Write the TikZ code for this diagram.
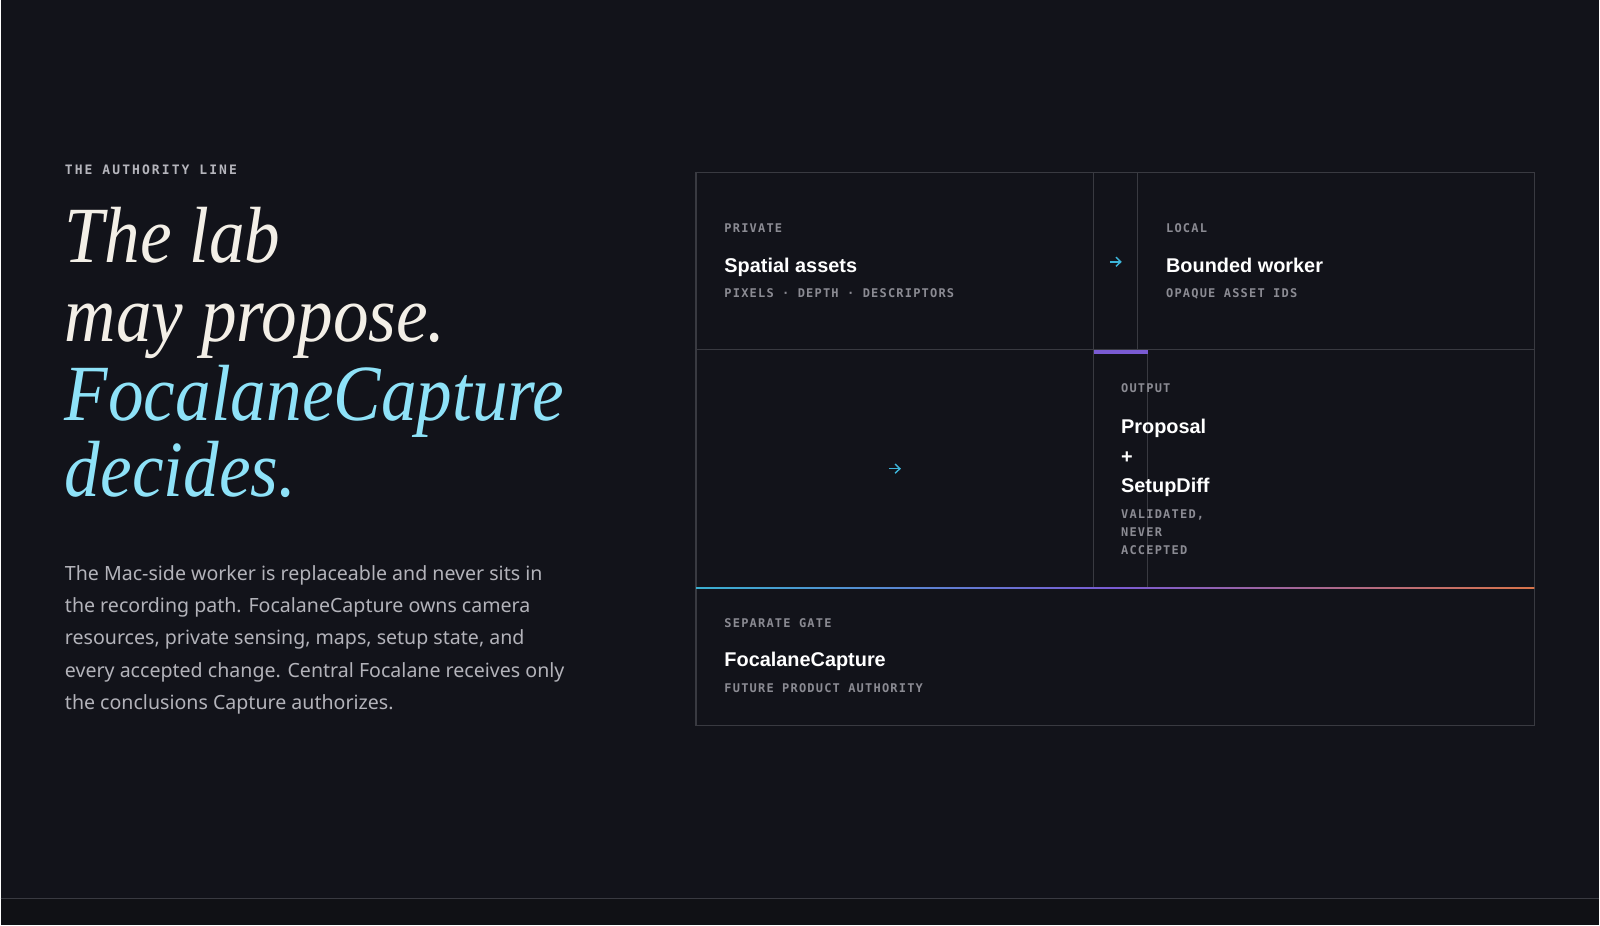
\documentclass[tikz,border=0pt]{standalone}
\usepackage{graphicx}
\usepackage{fontspec}
\usetikzlibrary{arrows.meta}
\setmainfont{Noto Sans}
\newfontfamily\titlesans{Liberation Sans}
\newfontfamily\serifit{Liberation Serif}
\newfontfamily\monolabel{DejaVu Sans Mono}[LetterSpace=10]
\newfontfamily\monokick{DejaVu Sans Mono}[LetterSpace=16]
\definecolor{bgdark}{HTML}{12131A}
\definecolor{bgfoot}{HTML}{101115}
\definecolor{gridgrey}{HTML}{393A41}
\definecolor{cream}{HTML}{F3EFE7}
\definecolor{skycyan}{HTML}{8EE2F8}
\definecolor{bodygrey}{HTML}{B3B3BA}
\definecolor{kickgrey}{HTML}{8B8B93}
\definecolor{toplabel}{HTML}{B5B5BC}
\definecolor{arrowcyan}{HTML}{3DB5DA}
\definecolor{gatecyan}{HTML}{3AAFD0}
\definecolor{gatepurple}{HTML}{7A5BD3}
\definecolor{gateorange}{HTML}{D9744A}
\tikzstyle{kicker}=[anchor=base west,inner sep=0pt,text=kickgrey,align=left,font=\monolabel\bfseries\fontsize{6}{9}\selectfont]
\tikzstyle{celltitle}=[anchor=base west,inner sep=0pt,text=white,align=left,font=\titlesans\bfseries\fontsize{9.95}{14.75}\selectfont]
\tikzstyle{headfont}=[anchor=base west,inner sep=0pt,font=\serifit\itshape\fontsize{35.6}{40}\selectfont]
\tikzstyle{gridline}=[draw=gridgrey,line width=0.6pt]
\tikzstyle{flowarrow}=[-{Straight Barb[length=2.4pt,width=4.6pt]},draw=arrowcyan,line width=0.7pt]
\newcommand{\tallhead}[1]{\scalebox{1}[1.12]{#1}}

\begin{document}
\begin{tikzpicture}[x=0.5pt,y=-0.5pt]
  % page
  \fill[bgdark] (0,0) rectangle (1600,926);
  \fill[bgfoot] (0,899) rectangle (1600,926);
  \draw[gridline] (0,899) -- (1600,899);

  % left column
  \node[kicker,text=toplabel,font=\monokick\bfseries\fontsize{6.5}{8}\selectfont] (authline) at (64,175) {THE AUTHORITY LINE};
  \node[headfont,text=cream] (headone) at (64,263) {\tallhead{The lab}};
  \node[headfont,text=cream] (headtwo) at (64,342) {\tallhead{may propose.}};
  \node[headfont,text=skycyan] (headthree) at (64,421) {\tallhead{FocalaneCapture}};
  \node[headfont,text=skycyan] (headfour) at (64,497) {\tallhead{decides.}};
  % multi-line nodes sit on their last baseline
  \node[anchor=base west,inner sep=0pt,align=left,text=bodygrey,font=\fontsize{9.8}{16.15}\selectfont] (blurb) at (64,710)
    {The Mac-side worker is replaceable and never sits in\\the recording path. FocalaneCapture owns camera\\resources, private sensing, maps, setup state, and\\every accepted change. Central Focalane receives only\\the conclusions Capture authorizes.};

  % grid of cells
  \draw[gridline] (696,173) rectangle (1535,726);
  \draw[gridline] (696,350) -- (1535,350);
  \draw[gridline] (1094,173) -- (1094,588);
  \draw[gridline] (1138,173) -- (1138,350);
  \draw[gridline] (1148,350) -- (1148,588);
  \fill[gatepurple] (1094,350) rectangle (1148,354);
  \shade[left color=gatecyan,right color=gateorange,middle color=gatepurple] (696,587.5) rectangle (1535,589);

  % private
  \node[kicker] (privlabel) at (724,233) {PRIVATE};
  \node[celltitle] (spatial) at (724,273) {Spatial assets};
  \node[kicker] (spatialnote) at (724,298) {PIXELS · DEPTH · DESCRIPTORS};
  % local
  \node[kicker] (locallabel) at (1166,233) {LOCAL};
  \node[celltitle] (worker) at (1166,273) {Bounded worker};
  \node[kicker] (workernote) at (1166,298) {OPAQUE ASSET IDS};
  % output
  \node[kicker] (outlabel) at (1121,393) {OUTPUT};
  \node[celltitle] (proposal) at (1121,493) {Proposal\\+\\SetupDiff};
  \node[kicker] (proposalnote) at (1121,555) {VALIDATED,\\NEVER\\ACCEPTED};
  % gate
  \node[kicker] (gatelabel) at (724,628) {SEPARATE GATE};
  \node[celltitle] (capture) at (724,667) {FocalaneCapture};
  \node[kicker] (capturenote) at (724,693) {FUTURE PRODUCT AUTHORITY};

  % arrows
  \coordinate (topin) at (1110,262);
  \coordinate (topout) at (1122,262);
  \coordinate (midin) at (889,469);
  \coordinate (midout) at (901,469);
  \draw[flowarrow] (topin) -- (topout);
  \draw[flowarrow] (midin) -- (midout);
\end{tikzpicture}
\end{document}
